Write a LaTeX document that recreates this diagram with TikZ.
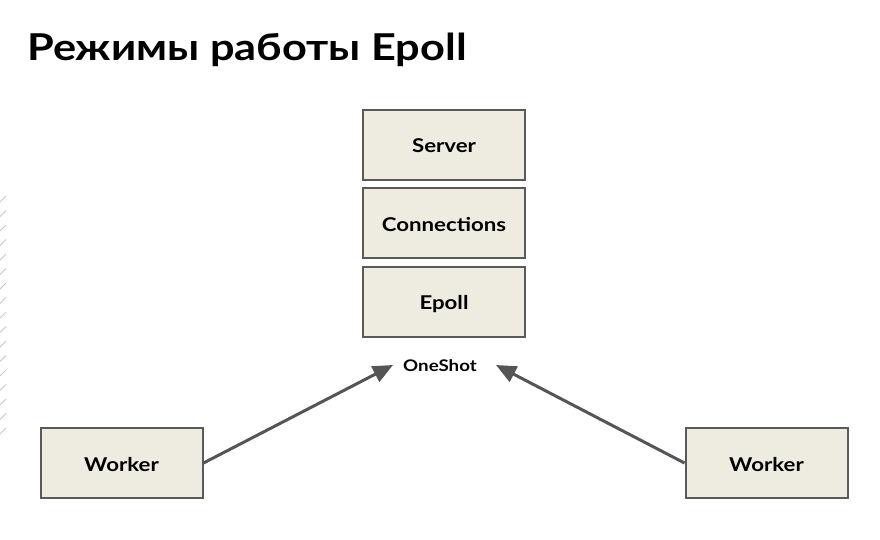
\documentclass[tikz,border=0pt]{standalone}
\usepackage{fontspec}
\setmainfont{Lato}[FakeStretch=1.17]
\usetikzlibrary{arrows.meta}
\definecolor{boxfill}{HTML}{EEEBE1}
\definecolor{boxline}{HTML}{5A5A5A}
\definecolor{arrowc}{HTML}{555555}
\definecolor{hatch}{HTML}{C8C8C8}
\tikzset{
  blockbox/.style={draw=boxline, line width=2pt, fill=boxfill, minimum width=162pt, minimum height=70pt, inner sep=0pt, text height=16.7pt, text depth=0pt, font=\fontsize{19}{22}\selectfont\bfseries},
  conn/.style={draw=arrowc, line width=3pt, -{Triangle[length=20pt,width=17pt]}},
}
\begin{document}
\begin{tikzpicture}[x=1pt,y=-1pt]
\useasboundingbox (0,0) rectangle (880,539);
\fill[white] (0,0) rectangle (880,539);
% left hatching
\foreach \k in {0,...,16}{
  \draw[hatch, line width=1pt] (0,{202+14.5*\k}) -- (6,{196+14.5*\k});
}
\node[anchor=base west, inner sep=0pt, font=\fontsize{37}{44}\selectfont\bfseries] (title) at (27,60) {Режимы работы Epoll};
\node[blockbox] (server) at (444,144.5) {Server};
\node[blockbox] (conns) at (444,223) {Connections};
\node[blockbox] (epoll) at (444,301.5) {Epoll};
\node[font=\fontsize{16}{19}\selectfont\bfseries, inner sep=0pt] (os) at (440,366) {OneShot};
\node[blockbox] (wl) at (121.5,463) {Worker};
\node[blockbox] (wr) at (766.5,463) {Worker};
\coordinate (tipl) at (393,365);
\coordinate (tipr) at (496,365);
\draw[conn] (wl.east) -- (tipl);
\draw[conn] (wr.west) -- (tipr);
\end{tikzpicture}
\end{document}
